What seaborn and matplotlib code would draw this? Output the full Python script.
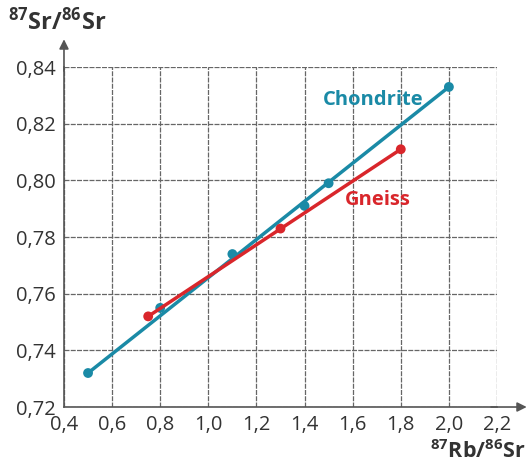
import numpy as np
import pandas as pd
import seaborn as sns
import matplotlib.pyplot as plt
from matplotlib.ticker import FixedLocator

# données
chondrite_rb = [0.5, 0.8, 1.1, 1.4, 1.5, 2.0]
chondrite_sr = [0.732, 0.755, 0.774, 0.791, 0.799, 0.833]
gneiss_rb = [0.75, 1.3, 1.8]
gneiss_sr = [0.752, 0.783, 0.811]

x_ticks = [0.4, 0.6, 0.8, 1.0, 1.2, 1.4, 1.6, 1.8, 2.0, 2.2]
x_labels = ['0,4', '0,6', '0,8', '1,0', '1,2', '1,4', '1,6', '1,8', '2,0', '2,2']
y_ticks = [0.72, 0.74, 0.76, 0.78, 0.80, 0.82, 0.84]
y_labels = ['0,72', '0,74', '0,76', '0,78', '0,80', '0,82', '0,84']

teal = '#1a8aa6'
red = '#d9262b'

df = pd.concat([
    pd.DataFrame({'rb': chondrite_rb, 'sr': chondrite_sr, 'roche': 'Chondrite'}),
    pd.DataFrame({'rb': gneiss_rb, 'sr': gneiss_sr, 'roche': 'Gneiss'}),
])
pal = {'Chondrite': teal, 'Gneiss': red}
zo = {'Chondrite': 3, 'Gneiss': 5}

sns.set_theme(style='whitegrid')
plt.rcParams['font.family'] = ['Open Sans', 'DejaVu Sans']
plt.rcParams['mathtext.fontset'] = 'custom'
plt.rcParams['mathtext.rm'] = 'Open Sans'
plt.rcParams['mathtext.bf'] = 'Open Sans:bold'

fig = plt.figure(figsize=(5.31, 4.65), dpi=100)
ax = fig.add_axes([0.1205, 0.1247, 0.8155, 0.731])

# droites (extrémités des séries) + points
for name, g in df.groupby('roche'):
    ends = g.iloc[[0, -1]]
    sns.lineplot(data=ends, x='rb', y='sr', color=pal[name], lw=2.5,
                 ax=ax, legend=False, zorder=zo[name])
    sns.scatterplot(data=g, x='rb', y='sr', color=pal[name], s=50,
                    edgecolor='none', legend=False, ax=ax, zorder=zo[name] + 1)

ax.set_xlim(0.4, 2.2)
ax.set_ylim(0.72, 0.84)
ax.xaxis.set_major_locator(FixedLocator(x_ticks))
ax.yaxis.set_major_locator(FixedLocator(y_ticks))
ax.set_xticklabels(x_labels)
ax.set_yticklabels(y_labels)
ax.tick_params(labelsize=14.5, colors='#333333', length=4, width=1, pad=2)
ax.tick_params(axis='both', which='major', direction='out')
ax.set_xlabel('')
ax.set_ylabel('')

ax.grid(True, color='#666666', lw=0.9, ls=(0, (4, 1)))
for s in ['top', 'right']:
    ax.spines[s].set_visible(False)
for s in ['left', 'bottom']:
    ax.spines[s].set_color('#555555')
    ax.spines[s].set_linewidth(1.2)
ax.set_facecolor('white')

# flèches des axes
ax.annotate('', xy=(0, 1.09), xytext=(0, 0.98), xycoords='axes fraction',
            arrowprops=dict(arrowstyle='-|>', color='#555555', lw=1.2,
                            mutation_scale=14), annotation_clip=False)
ax.annotate('', xy=(1.075, 0), xytext=(0.98, 0), xycoords='axes fraction',
            arrowprops=dict(arrowstyle='-|>', color='#555555', lw=1.2,
                            mutation_scale=14), annotation_clip=False)

ax.text(1.685, 0.8284, 'Chondrite', color=teal, fontsize=14.5,
        fontweight='bold', ha='center', va='center')
ax.text(1.705, 0.793, 'Gneiss', color=red, fontsize=14.5,
        fontweight='bold', ha='center', va='center')

fig.text(0.015, 0.953, r'$\mathbf{^{87}Sr/^{86}Sr}$', fontsize=17,
         color='#333333', ha='left', va='center')
fig.text(0.99, 0.03, r'$\mathbf{^{87}Rb/^{86}Sr}$', fontsize=15.5,
         color='#333333', ha='right', va='center')

fig.savefig('out.png', dpi=100, facecolor='white')
